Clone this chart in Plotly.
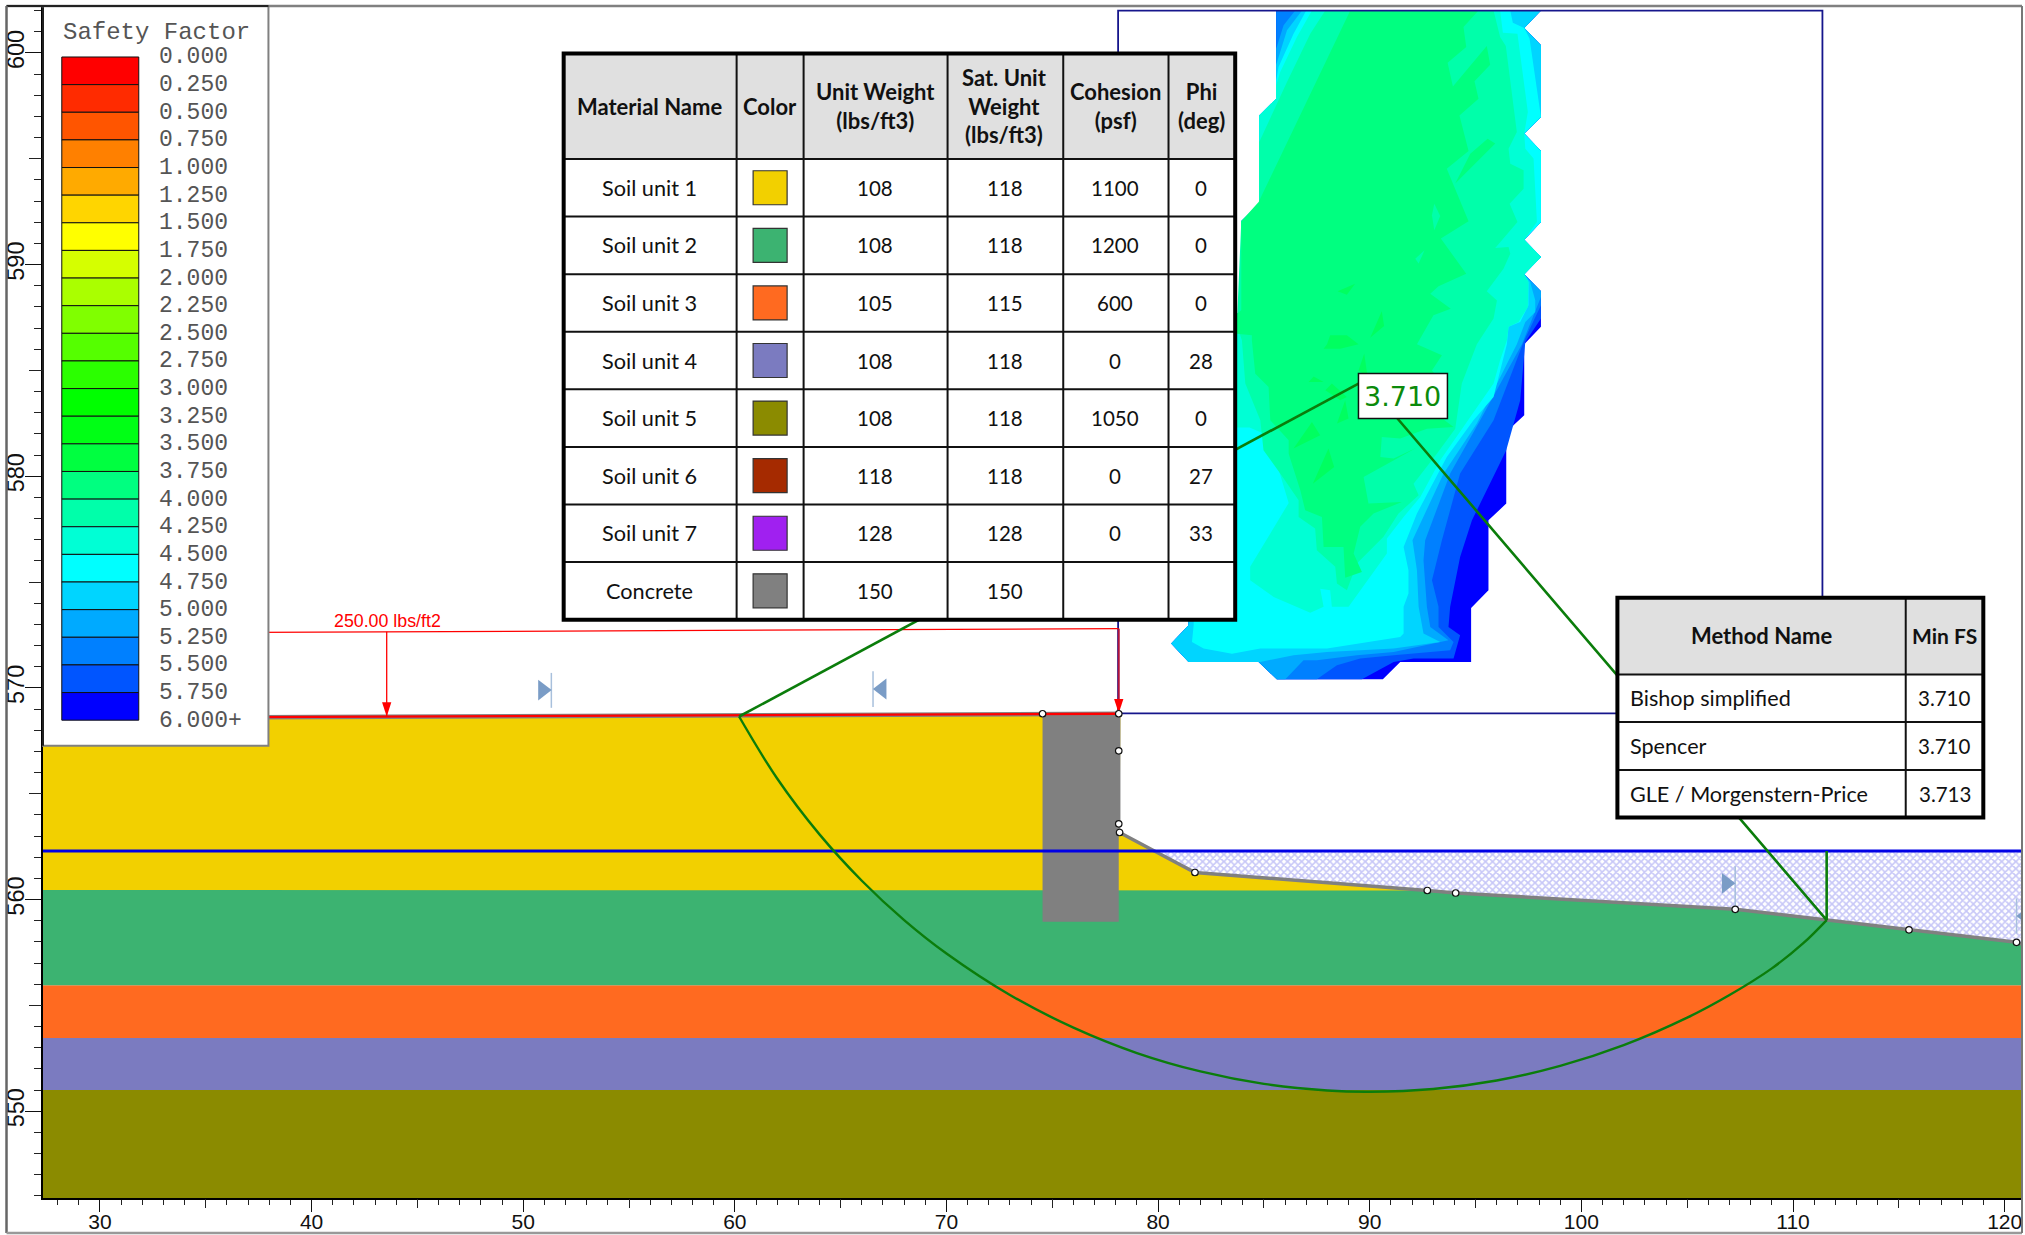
import plotly.graph_objects as go

# ---------------- data (feet) ----------------
x_min, x_max = 27.31, 120.82
y_min, y_max = 545.90, 602.22

material_names = ["Soil unit 1", "Soil unit 2", "Soil unit 3", "Soil unit 4", "Soil unit 5", "Soil unit 6", "Soil unit 7", "Concrete"]
material_colors = ["#F2D000", "#3CB371", "#FF6A20", "#7B7BC0", "#8B8B00", "#A52A00", "#A020F0", "#808080"]
unit_weight = ["108", "108", "105", "108", "108", "118", "128", "150"]
sat_weight = ["118", "118", "115", "118", "118", "118", "128", "150"]
cohesion = ["1100", "1200", "600", "0", "1050", "0", "0", ""]
phi = ["0", "0", "0", "28", "0", "27", "33", ""]
table_headers = ["Material Name", "Color", "Unit Weight<br>(lbs/ft3)", "Sat. Unit<br>Weight<br>(lbs/ft3)", "Cohesion<br>(psf)", "Phi<br>(deg)"]

method_names = ["Bishop simplified", "Spencer", "GLE / Morgenstern-Price"]
method_fs = ["3.710", "3.710", "3.713"]

fs_labels = ["0.000", "0.250", "0.500", "0.750", "1.000", "1.250", "1.500", "1.750", "2.000", "2.250", "2.500", "2.750",
             "3.000", "3.250", "3.500", "3.750", "4.000", "4.250", "4.500", "4.750", "5.000", "5.250", "5.500", "5.750", "6.000+"]
fs_colors = ["#FF0000", "#FF2B00", "#FF5500", "#FF8000", "#FFAA00", "#FFD500", "#FFFF00", "#D5FF00", "#AAFF00", "#80FF00", "#55FF00", "#2BFF00",
             "#00FF00", "#00FF15", "#00FF40", "#00FF80", "#00FFAA", "#00FFD5", "#00FFFF", "#00D5FF", "#00AAFF", "#0080FF", "#0055FF", "#0000FF"]

surface_x = [27.31, 60.2, 74.54, 78.22]
surface_y = [568.58, 568.70, 568.78, 568.78]
slope_x = [78.18, 81.74, 92.72, 94.06, 107.27, 111.59, 115.48, 120.56, 120.82]
slope_y = [563.17, 561.28, 560.43, 560.31, 559.54, 559.03, 558.57, 557.98, 557.90]
soil1_bottom = 560.45
soil2_bottom = 555.95
soil3_bottom = 553.46
soil4_bottom = 551.00
wall_x = [74.54, 78.22, 78.22, 78.14, 78.14, 74.54]
wall_y = [568.78, 568.78, 563.30, 563.10, 558.95, 558.95]
water_y = 562.30
water_start_x = 79.82
vertex_x = [74.54, 78.14, 78.14, 78.14, 78.18, 81.74, 92.72, 94.06, 107.27, 115.48, 120.56]
vertex_y = [568.78, 568.78, 567.03, 563.58, 563.17, 561.28, 560.43, 560.31, 559.54, 558.57, 557.98]
grid_x = [78.11, 78.11, 111.39, 111.39, 78.11]
grid_y = [568.80, 602.00, 602.00, 568.80, 568.80]
load_x = [27.31, 78.14]
load_y = [572.58, 572.80]
arrow1_x, arrow1_top, arrow1_tip = 43.55, 572.66, 568.65
arrow2_x, arrow2_top, arrow2_tip = 78.14, 572.80, 568.80

slip_x = [60.2, 62, 64, 66, 68, 70, 73, 76, 79, 82, 85, 88, 90, 93, 96, 99, 102, 105, 107, 109, 110.5, 111.59]
slip_y = [568.65, 565.72, 563.08, 560.89, 559.03, 557.45, 555.49, 553.95, 552.75, 551.88, 551.29, 550.98, 550.92, 551.05, 551.45, 552.14, 553.12, 554.42, 555.49, 556.75, 557.95, 559.03]
leader1_x, leader1_y = [60.2, 89.47], [568.65, 584.38]
leader2_x, leader2_y = [91.31, 111.59, 111.59], [582.73, 559.03, 562.30]

slice_tri_x = [50.92, 66.95, 106.85, 120.98]
slice_tri_y = [569.90, 569.95, 560.77, 559.22]
slice_line_x = [51.33, 66.53, 107.27, 120.56]
slice_line_lo = [569.06, 569.10, 559.71, 558.40]
slice_line_hi = [570.71, 570.79, 561.58, 560.05]

# contour bands, outer to inner
edge_right_x = [98.09, 97.30, 98.09, 98.09, 97.30, 98.09, 98.09, 97.30, 98.09, 97.30, 98.09]
edge_right_y = [602.01, 601.18, 600.36, 596.98, 596.19, 595.37, 592.02, 591.18, 590.36, 589.54, 588.74]
edge_left_x = [85.61, 84.75, 81.44, 80.62, 81.44, 81.44, 82.23, 82.23, 83.10, 83.10, 83.93, 83.93, 84.78, 84.78, 85.58]
edge_left_y = [570.41, 571.23, 571.23, 572.10, 572.96, 577.84, 578.63, 582.57, 583.36, 587.06, 587.84, 592.05, 592.88, 597.05, 597.84]

band600_x = [85.58] + edge_right_x + [98.09, 97.30, 97.30, 96.45, 96.45, 95.61, 95.61, 94.79, 94.79, 91.44, 90.62] + edge_left_x
band600_y = [602.01] + edge_right_y + [587.06, 586.24, 582.88, 582.09, 578.71, 577.92, 574.62, 573.78, 571.23, 571.23, 570.41] + edge_left_y
band575_x = [85.58] + edge_right_x + [98.09, 97.35, 97.11, 96.45, 94.83, 94.27, 93.80, 93.72, 94.27, 93.96, 92.07, 91.13, 89.63] + edge_left_x
band575_y = [602.01] + edge_right_y + [587.45, 586.35, 583.59, 581.23, 577.92, 576.19, 573.83, 572.88, 572.49, 571.39, 571.39, 571.23, 570.41] + edge_left_y
band550_x = [85.58] + edge_right_x + [98.09, 97.27, 95.85, 94.27, 93.41, 92.94, 93.25, 93.25, 93.96, 93.80, 91.13, 89.55, 88.45, 87.50] + edge_left_x
band550_y = [602.01] + edge_right_y + [588.08, 586.35, 582.65, 580.13, 576.98, 575.09, 573.83, 572.88, 572.17, 571.78, 571.54, 571.39, 571.07, 570.41] + edge_left_y
band525_x = [86.48] + edge_right_x + [98.09, 97.19, 95.22, 93.80, 92.62, 92.54, 92.70, 92.86, 93.72, 91.13, 89.39, 88.29, 87.50, 86.87, 86.01] + edge_left_x + [85.58, 85.93]
band525_y = [602.01] + edge_right_y + [588.47, 586.24, 582.65, 580.13, 576.98, 576.03, 573.83, 572.88, 572.25, 571.70, 571.54, 571.39, 571.31, 571.31, 570.41] + edge_left_y + [600.20, 601.31]
band500_x = [86.80] + edge_right_x[:10] + [97.58, 97.82, 97.82, 97.35, 96.95, 95.06, 93.49, 92.02, 92.23, 92.31, 92.54, 93.33, 91.13, 87.98, 86.40, 84.83] + edge_left_x[1:] + [85.58, 86.09]
band500_y = [602.01] + edge_right_y[:10] + [589.18, 588.32, 587.76, 587.29, 586.24, 582.49, 580.13, 576.98, 575.56, 573.83, 572.57, 572.17, 571.86, 571.70, 571.54, 571.23] + edge_left_y[1:] + [599.45, 601.07]
band475_x = [87.00, 96.64, 96.76, 97.30, 97.55, 98.09, 98.09, 97.30, 98.09, 98.09, 97.30, 98.09, 97.30, 97.50, 97.50, 97.11, 96.56, 96.48,
             95.85, 94.90, 93.64, 92.23, 91.60, 91.83, 91.83, 91.60, 91.60, 91.44, 87.98, 84.83, 83.49, 82.15, 81.60, 81.68, 81.68,
             82.23, 82.23, 83.10, 83.10, 83.93, 83.93, 84.78, 84.78, 85.58, 85.58, 85.69, 86.40]
band475_y = [602.01, 602.01, 601.43, 601.18, 600.68, 597.21, 596.98, 596.19, 595.37, 592.02, 591.18, 590.36, 589.54, 589.18, 588.08, 587.29, 587.06, 586.24,
             583.75, 582.65, 580.91, 578.24, 576.66, 575.56, 574.46, 573.83, 572.57, 572.41, 571.86, 571.86, 571.62, 571.86, 572.17, 572.96, 577.84,
             578.63, 582.57, 583.36, 587.06, 587.84, 592.05, 592.88, 597.05, 597.84, 598.71, 599.34, 600.91]
band450_x = [87.27, 96.16, 96.29, 96.98, 97.47, 97.30, 97.35, 97.74, 97.90, 97.30, 98.09, 97.30, 97.50, 97.47, 97.03, 96.56, 96.48, 96.16, 95.85, 94.98, 93.96, 93.33,
             92.39, 91.60, 90.81, 90.81, 89.00, 88.21, 88.13, 87.66, 87.82, 87.19, 85.46, 84.35, 84.35, 86.17, 85.61, 84.98, 84.32, 83.25, 83.25, 83.93, 83.93,
             84.78, 84.78, 85.58, 85.58, 85.77, 86.56]
band450_y = [602.01, 602.01, 600.96, 600.91, 597.21, 596.19, 595.48, 595.01, 592.02, 591.18, 590.36, 589.54, 589.18, 588.00, 587.29, 587.06, 586.43, 585.48, 584.38, 583.12, 581.70, 580.76,
             579.02, 578.08, 577.06, 576.35, 573.83, 573.83, 574.62, 574.69, 573.83, 573.55, 574.30, 575.09, 575.72, 578.74, 580.60, 582.02, 582.30, 582.30, 587.13, 587.84, 592.05,
             592.88, 597.05, 597.84, 598.47, 599.10, 600.75]
band425_x = [87.90, 95.85, 96.16, 96.43, 96.95, 96.56, 96.64, 97.27, 97.27, 96.61, 96.98, 95.93, 96.56, 96.64, 96.32, 95.53, 96.01, 95.85, 95.06, 94.35, 94.04, 93.17, 92.07,
             92.31, 91.36, 90.65, 89.39, 88.92, 88.45, 88.37, 87.50, 87.42, 86.64, 86.64, 85.77, 84.98, 84.83, 84.12, 83.96, 83.72, 83.93, 84.78, 84.78, 86.09, 87.19]
band425_y = [602.01, 602.01, 600.75, 600.33, 596.27, 595.48, 594.77, 594.46, 593.59, 592.88, 592.02, 590.79, 590.83, 590.52, 589.81, 588.74, 588.31, 587.45, 586.24, 584.38, 582.25, 581.07, 579.65,
             579.10, 578.24, 577.14, 575.88, 574.62, 574.93, 575.72, 576.51, 577.53, 578.08, 578.87, 580.13, 581.23, 582.65, 584.38, 586.43, 587.13, 592.05, 592.88, 595.79, 598.63, 600.91]
band400_x = [89.08, 95.14, 94.43, 94.56, 93.68, 93.93, 95.53, 95.69, 94.95, 95.14, 94.24, 94.67, 93.64, 94.67, 93.36, 94.56, 93.25, 92.86, 93.83, 93.01, 92.23, 93.41, 92.94, 93.72, 92.70, 93.96,
             92.70, 91.44, 90.57, 90.50, 91.13, 92.23, 89.71, 89.94, 91.52, 90.18, 89.55, 89.24, 89.63, 88.84, 88.76, 87.82, 87.74, 86.95, 86.72, 86.17, 86.17, 85.30, 85.22, 84.59, 84.43, 84.43,
             83.72, 83.72, 83.93, 83.93, 84.75]
band400_y = [602.01, 602.01, 601.23, 600.28, 599.54, 598.42, 600.33, 599.45, 598.66, 597.84, 597.05, 595.37, 594.53, 592.05, 591.23, 589.57, 588.98, 588.63, 587.92, 587.61, 586.24, 585.72, 585.00, 584.06, 583.28, 582.33,
             582.25, 581.78, 581.86, 580.91, 580.84, 581.36, 579.97, 578.71, 578.79, 578.24, 577.61, 576.35, 575.48, 575.21, 576.66, 576.66, 578.08, 578.39, 579.34, 581.07, 581.70, 582.65, 584.22, 584.85, 586.43, 586.66,
             586.74, 587.68, 587.84, 592.05, 592.96]
patch400_x = [94.75, 95.57, 95.93, 94.04]
patch400_y = [595.24, 595.95, 595.72, 593.83]
patches375 = [
    ([88.48, 89.31, 88.92], [588.74, 589.10, 588.58]),
    ([90.02, 90.57, 90.68], [586.54, 587.80, 587.10]),
    ([87.98, 88.13, 88.92, 89.47, 88.61, 87.82], [586.24, 586.66, 586.66, 586.24, 586.03, 586.03]),
    ([89.47, 89.74, 89.90], [585.00, 585.80, 584.69]),
    ([87.11, 87.35, 87.82], [584.46, 584.72, 584.46]),
    ([86.40, 87.27, 87.66], [581.31, 582.57, 581.94]),
    ([87.31, 88.05, 88.32], [579.65, 581.31, 580.44]),
    ([87.90, 88.21, 88.92, 88.61], [584.06, 584.38, 583.75, 583.59]),
    ([88.45, 88.84, 89.00], [582.49, 583.59, 582.73]),
]
patches425 = [
    ([93.05, 93.33, 93.05, 92.94], [592.88, 592.30, 591.62, 592.33]),
    ([92.15, 92.59, 92.31], [590.28, 590.68, 590.05]),
]

# ---------------- page layout ----------------
W, H = 2025, 1235
L, R, T, B = 42.5, 2022.0, 5.7, 1198.0
def px(p): return (p - L) / (R - L)
def py(p): return (B - p) / (B - T)

fig = go.Figure()

def poly(xs, ys, color):
    fig.add_trace(go.Scatter(x=xs, y=ys, mode="lines", fill="toself", fillcolor=color,
                             line=dict(width=0), hoverinfo="skip", showlegend=False))
def line(xs, ys, color, width, shape="linear"):
    fig.add_trace(go.Scatter(x=xs, y=ys, mode="lines", line=dict(color=color, width=width, shape=shape),
                             hoverinfo="skip", showlegend=False))

# contours
poly(band600_x, band600_y, "#0000FF")
poly(band575_x, band575_y, "#0055FF")
poly(band550_x, band550_y, "#0080FF")
poly(band525_x, band525_y, "#00AAFF")
poly(band500_x, band500_y, "#00D5FF")
poly(band475_x, band475_y, "#00FFFF")
poly(band450_x, band450_y, "#00FFD5")
poly(band425_x, band425_y, "#00FFAA")
poly(band400_x, band400_y, "#00FF80")
poly(patch400_x, patch400_y, "#00FF80")
for px_, py_ in patches375:
    poly(px_, py_, "#00FF60")
for px_, py_ in patches425:
    poly(px_, py_, "#00FFAA")

line(grid_x, grid_y, "#16168C", 1.8)

# soils
poly([x_min, x_max, x_max, x_min], [soil4_bottom, soil4_bottom, y_min, y_min], material_colors[4])
poly([x_min, x_max, x_max, x_min], [soil3_bottom, soil3_bottom, soil4_bottom, soil4_bottom], material_colors[3])
poly([x_min, x_max, x_max, x_min], [soil2_bottom, soil2_bottom, soil3_bottom, soil3_bottom], material_colors[2])
poly([x_min] + slope_x[2:] + [x_max, x_min], [soil1_bottom, soil1_bottom] + slope_y[3:] + [soil2_bottom, soil2_bottom], material_colors[1])
poly(surface_x + slope_x[:3] + [x_min], surface_y + slope_y[:3] + [soil1_bottom], material_colors[0])

# water
fig.add_trace(go.Scatter(x=[water_start_x, x_max] + slope_x[::-1][:-1], y=[water_y, water_y] + slope_y[::-1][:-1],
                         mode="lines", fill="toself", line=dict(width=0), fillcolor="rgba(0,0,0,0)",
                         fillpattern=dict(shape="x", size=5, solidity=0.55, fgcolor="#9090F0", bgcolor="#FFFFFF"),
                         hoverinfo="skip", showlegend=False))
poly(wall_x, wall_y, material_colors[7])
line(surface_x, surface_y, "#808080", 4.5)
line(slope_x, slope_y, "#808080", 3.5)
line([x_min, x_max], [water_y, water_y], "#0000E6", 3)
line(surface_x, surface_y, "#FF0000", 2.4)

# load
line(load_x, load_y, "#FF0000", 1.3)
line([arrow1_x, arrow1_x], [arrow1_top, arrow1_tip], "#FF0000", 1.3)
line([arrow2_x, arrow2_x], [arrow2_top, arrow2_tip], "#B0103A", 2)
fig.add_trace(go.Scatter(x=[arrow1_x, arrow2_x], y=[arrow1_tip, arrow2_tip], mode="markers",
                         marker=dict(symbol="arrow", angle=180, size=15, color="#FF0000", line=dict(width=0)),
                         hoverinfo="skip", showlegend=False))

# slices
for sx, lo, hi in zip(slice_line_x, slice_line_lo, slice_line_hi):
    line([sx, sx], [lo, hi], "#A8C0DC", 1.5)
fig.add_trace(go.Scatter(x=slice_tri_x, y=slice_tri_y, mode="markers",
                         marker=dict(symbol=["triangle-right", "triangle-left", "triangle-right", "triangle-left"], size=18, color="#7A9CC6", line=dict(width=0)),
                         hoverinfo="skip", showlegend=False))

# slip
line(slip_x, slip_y, "#0B7D0B", 2.4, shape="spline")
line(leader1_x, leader1_y, "#0B7D0B", 2.6)
line(leader2_x, leader2_y, "#0B7D0B", 2.6)

# vertices
fig.add_trace(go.Scatter(x=vertex_x, y=vertex_y, mode="markers",
                         marker=dict(symbol="circle", size=6.5, color="#FFFFFF", line=dict(color="#111111", width=1.2)),
                         hoverinfo="skip", showlegend=False))

# overlay axes carrying the 5-unit ticks
fig.add_trace(go.Scatter(x=[None], y=[None], xaxis="x2", yaxis="y2", hoverinfo="skip", showlegend=False))

shapes, notes = [], []
def rect(x0, y0, x1, y1, fill=None, color=None, width=0):
    shapes.append(dict(type="rect", xref="paper", yref="paper", x0=px(x0), x1=px(x1), y0=py(y0), y1=py(y1), layer="above",
                       fillcolor=fill if fill else "rgba(0,0,0,0)", line=dict(color=color if color else "rgba(0,0,0,0)", width=width)))
def seg(x0, y0, x1, y1, color, width):
    shapes.append(dict(type="line", xref="paper", yref="paper", x0=px(x0), x1=px(x1), y0=py(y0), y1=py(y1), layer="above",
                       line=dict(color=color, width=width)))
def text(x, y, s, size, color="#111111", family="Lato", xanchor="center"):
    notes.append(dict(xref="paper", yref="paper", x=px(x), y=py(y), text=s, showarrow=False, xanchor=xanchor, yanchor="middle",
                      align="center", font=dict(family=family, size=size, color=color), borderpad=0))

# legend
rect(42.5, 5.7, 268, 745.7, fill="#FFFFFF", color="#808080", width=2)
seg(42.5, 5.7, 42.5, 745.7, "#000000", 1.5)
text(61.5, 32, "Safety Factor", 24, color="#555555", family="Liberation Mono", xanchor="left")
rows_top, row_h = 56.7, 27.64
for i, c in enumerate(fs_colors):
    rect(61.3, rows_top + i * row_h, 138.3, rows_top + (i + 1) * row_h, fill=c, color="#111111", width=1)
for i, s in enumerate(fs_labels):
    text(158, rows_top + i * row_h + 0.5, s, 23, color="#555555", family="Liberation Mono", xanchor="left")

# materials table
t1_cols = [563.3, 736.3, 803.3, 947.3, 1063.0, 1168.3, 1235.0]
t1_rows = [53.3, 158.7, 216.3, 273.9, 331.5, 389.1, 446.7, 504.3, 561.9, 619.5]
rect(t1_cols[0], t1_rows[0], t1_cols[-1], t1_rows[-1], fill="#FFFFFF")
rect(t1_cols[0], t1_rows[0], t1_cols[-1], t1_rows[1], fill="#E0E0E0")
for c in t1_cols[1:-1]:
    seg(c, t1_rows[0], c, t1_rows[-1], "#111111", 2)
for r in t1_rows[1:-1]:
    seg(t1_cols[0], r, t1_cols[-1], r, "#111111", 2)
rect(t1_cols[0], t1_rows[0], t1_cols[-1], t1_rows[-1], color="#000000", width=4)
for j, h in enumerate(table_headers):
    text((t1_cols[j] + t1_cols[j + 1]) / 2 - 0.5, (t1_rows[0] + t1_rows[1]) / 2, "<b>" + h + "</b>", 22)
for i in range(8):
    yc = (t1_rows[i + 1] + t1_rows[i + 2]) / 2
    text((t1_cols[0] + t1_cols[1]) / 2 - 0.5, yc, material_names[i], 21.7)
    xc = (t1_cols[1] + t1_cols[2]) / 2
    rect(xc - 17, yc - 17, xc + 17, yc + 17, fill=material_colors[i], color="#333333", width=1.2)
    for k, col in enumerate([unit_weight, sat_weight, cohesion, phi]):
        if col[i]:
            text((t1_cols[k + 2] + t1_cols[k + 3]) / 2 - 0.5, yc, col[i], 20.5)

# methods table
t2_cols = [1617.3, 1905.7, 1983.3]
t2_rows = [597.7, 674.3, 722.0, 770.0, 817.3]
rect(t2_cols[0], t2_rows[0], t2_cols[-1], t2_rows[-1], fill="#FFFFFF")
rect(t2_cols[0], t2_rows[0], t2_cols[-1], t2_rows[1], fill="#E0E0E0")
seg(t2_cols[1], t2_rows[0], t2_cols[1], t2_rows[-1], "#111111", 2)
for r in t2_rows[1:-1]:
    seg(t2_cols[0], r, t2_cols[-1], r, "#111111", 2)
rect(t2_cols[0], t2_rows[0], t2_cols[-1], t2_rows[-1], color="#000000", width=4)
text((t2_cols[0] + t2_cols[1]) / 2, (t2_rows[0] + t2_rows[1]) / 2 - 1, "<b>Method Name</b>", 22)
text((t2_cols[1] + t2_cols[2]) / 2, (t2_rows[0] + t2_rows[1]) / 2 - 1, "<b>Min FS</b>", 21)
for i in range(3):
    yc = (t2_rows[i + 1] + t2_rows[i + 2]) / 2
    text(1629, yc, method_names[i], 21.6, xanchor="left")
    text((t2_cols[1] + t2_cols[2]) / 2, yc, method_fs[i], 20.5)

# critical FS label
rect(1358.3, 373.3, 1447.3, 418.3, fill="#FFFFFF", color="#111111", width=1.5)
text(1402.8, 396, "3.710", 27, color="#0B8A0B", family="DejaVu Sans")

# load label
notes.append(dict(x=43.58, y=573.16, xref="x", yref="y", text="250.00 lbs/ft2", showarrow=False,
                  font=dict(family="Liberation Sans", size=17.8, color="#FF0000")))

# page frame
seg(6, 5.7, R, 5.7, "#808080", 2.5)
seg(6, 5.7, 268, 5.7, "#222222", 2)
seg(6, 5.7, 6, 1233, "#666666", 2.5)
seg(6, 1233, R, 1233, "#999999", 2.5)
seg(R, 5.7, R, 1233, "#777777", 2)

x_tick_font = dict(family="Liberation Sans", size=21, color="#111111")
y_tick_font = dict(family="Liberation Sans", size=23.5, color="#111111")
fig.update_layout(
    width=W, height=H, margin=dict(l=L, r=W - R, t=T, b=H - B, pad=0, autoexpand=False),
    paper_bgcolor="#FFFFFF", plot_bgcolor="#FFFFFF", showlegend=False,
    shapes=shapes, annotations=notes,
    xaxis=dict(range=[x_min, x_max], tickvals=[30, 40, 50, 60, 70, 80, 90, 100, 110, 120], ticks="outside", ticklen=12, tickwidth=1.3, tickcolor="#111111",
               showgrid=False, zeroline=False, showline=True, linecolor="#000000", linewidth=1.5, tickfont=x_tick_font, anchor="y", ticklabelstandoff=-8,
               minor=dict(dtick=1, ticks="outside", ticklen=5, tickwidth=1.2, tickcolor="#222222", showgrid=False)),
    yaxis=dict(range=[y_min, y_max], tickvals=[550, 560, 570, 580, 590, 600], ticks="outside", ticklen=16, tickwidth=1.3, tickcolor="#111111", tickangle=-90,
               showgrid=False, zeroline=False, showline=True, linecolor="#000000", linewidth=1.5, tickfont=y_tick_font, anchor="x", ticklabelstandoff=-8,
               minor=dict(dtick=1, ticks="outside", ticklen=7.5, tickwidth=1.2, tickcolor="#222222", showgrid=False)),
    xaxis2=dict(range=[x_min, x_max], overlaying="x", anchor="y2", side="bottom", tickvals=[35, 45, 55, 65, 75, 85, 95, 105, 115], ticks="outside", ticklen=8.5,
                tickwidth=1.2, tickcolor="#222222", showticklabels=False, showgrid=False, zeroline=False),
    yaxis2=dict(range=[y_min, y_max], overlaying="y", anchor="x2", side="left", tickvals=[555, 565, 575, 585, 595], ticks="outside", ticklen=13,
                tickwidth=1.2, tickcolor="#222222", showticklabels=False, showgrid=False, zeroline=False),
)

fig.write_html("out.html", config=dict(displayModeBar=False),
               post_script="document.body.style.margin='0';document.body.style.overflow='hidden';")
